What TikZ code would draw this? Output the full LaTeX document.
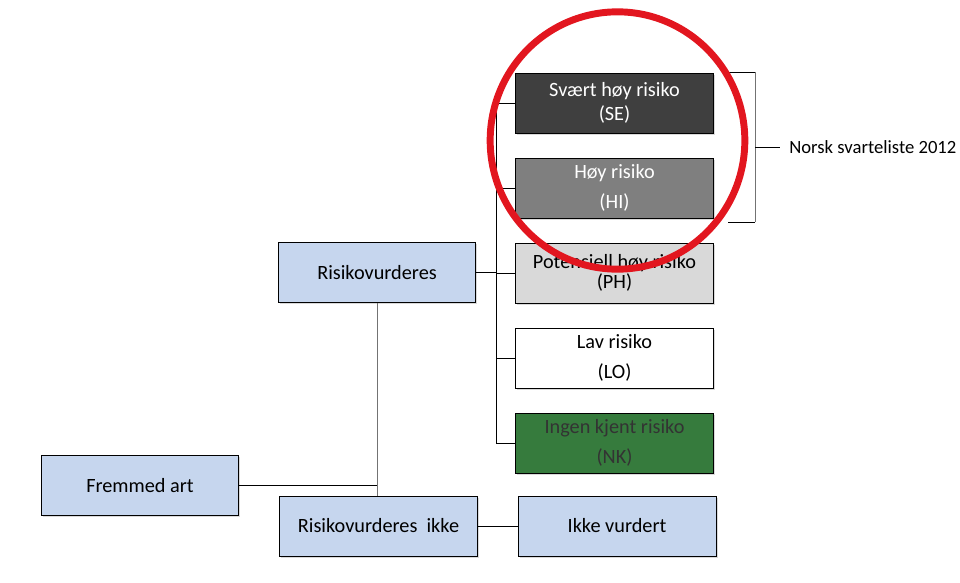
\documentclass[tikz,border=0pt]{standalone}
\usepackage{fontspec}
\setmainfont{Carlito}
\usepackage{tikz}
\usetikzlibrary{shadows}
\definecolor{boxblue}{HTML}{C6D6EE}
\definecolor{segray}{HTML}{3F3F3F}
\definecolor{higray}{HTML}{7F7F7F}
\definecolor{phgray}{HTML}{D9D9D9}
\definecolor{nkgreen}{HTML}{367B3D}
\definecolor{ringred}{HTML}{E2161F}

\begin{document}
\begin{tikzpicture}[x=0.75pt, y=-0.75pt,
  every node/.style={font=\fontsize{15.2}{17}\selectfont},
  cat/.style={draw, line width=0.6pt, minimum width=148pt, minimum height=45pt,
    inner sep=0pt, align=center,
    drop shadow={opacity=0.3, shadow xshift=1.2pt, shadow yshift=-1.2pt}},
  link/.style={line width=0.7pt}]

\useasboundingbox (0,0) rectangle (960,582);

% Left part
\node[cat, fill=boxblue] (fremmed) at (140,485.5) {Fremmed art};
\node[cat, fill=boxblue] (vurd) at (377,272.5) {Risikovurderes};
\node[cat, fill=boxblue] (ikkevurd) at (378.5,526) {Risikovurderes\ \ ikke};
\node[cat, fill=boxblue, minimum width=148.5pt] (ikke) at (617,526) {Ikke vurdert};

% Risk categories
\node[cat, fill=segray, text=white] (se) at (614.5,103) {Svært høy risiko\\[1pt](SE)};
\node[cat, fill=higray, text=white] (hi) at (614.5,188) {Høy risiko\\[5pt](HI)};
\node[cat, fill=phgray] (ph) at (614.5,273) {Potensiell høy risiko\\[-2pt](PH)};
\node[cat, fill=white] (lo) at (614.5,358) {Lav risiko\\[5pt](LO)};
\node[cat, fill=nkgreen, text=black!80] (nk) at (614.5,443) {Ingen kjent risiko\\[5pt](NK)};

% Trunk between the categories
\coordinate (trunk) at (496,0);
\draw[link] (se.west) -- (se.west -| trunk) -- (nk.west -| trunk) -- (nk.west);
\draw[link] (hi.west) -- (hi.west -| trunk);
\draw[link] (ph.west) -- (ph.west -| trunk);
\draw[link] (lo.west) -- (lo.west -| trunk);
\draw[link] (vurd.east) -- (vurd.east -| trunk);

% Fremmed art to the two branches
\draw[link, black!55] (vurd.south) -- (vurd.south |- ikkevurd.north);
\draw[link] (fremmed.east) -- (fremmed.east -| vurd.south);
\draw[link] (ikkevurd.east) -- (ikke.west);

% Bracket for the black list
\coordinate (brtop) at (728,72);
\coordinate (brbot) at (728,222);
\coordinate (brmid) at (755,147);
\draw[link] (brtop) -- (brtop -| brmid);
\draw[link] (brbot) -- (brbot -| brmid);
\draw[link, black!55] (brtop -| brmid) -- (brbot -| brmid);
\node[anchor=west, inner sep=0pt, font=\fontsize{14}{16}\selectfont] (svart) at (789,147) {Norsk svarteliste 2012};
\draw[link] (brmid) -- ([xshift=-7pt]svart.west);

% Red ring
\draw[ringred, line width=5.2pt] (617.5,140.5) ellipse [x radius=95.5pt, y radius=96.5pt];

\end{tikzpicture}
\end{document}
